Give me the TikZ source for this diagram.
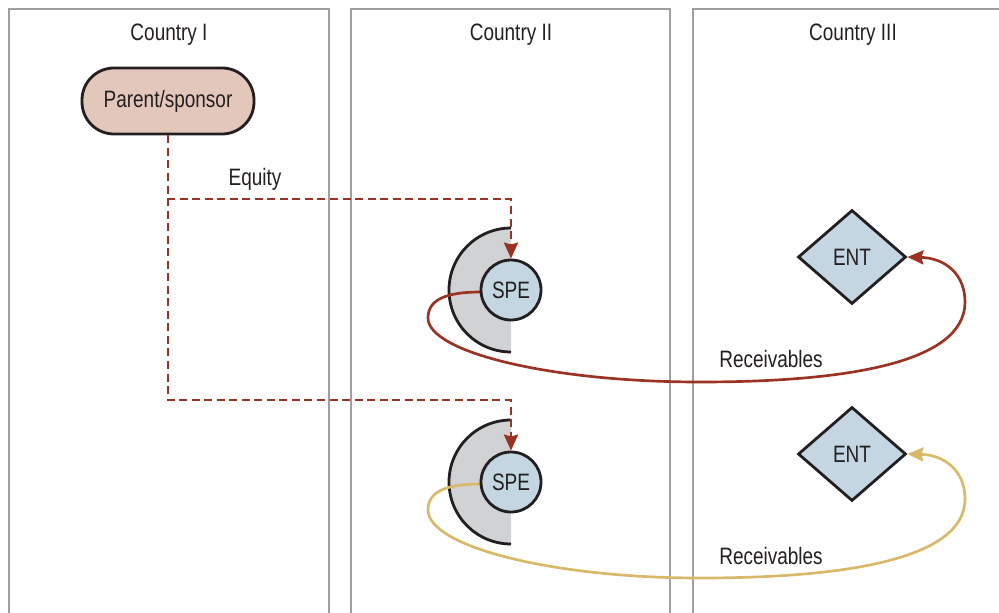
\documentclass[tikz,border=0pt]{standalone}
\usepackage{fontspec}
\setmainfont{Liberation Sans}[FakeStretch=0.8]
\usetikzlibrary{shapes.geometric,arrows.meta,calc}
\definecolor{inkc}{HTML}{231F20}
\definecolor{panelc}{HTML}{9D9FA2}
\definecolor{equityc}{HTML}{9A3324}
\definecolor{recvc}{HTML}{D8B96A}
\definecolor{parentfill}{HTML}{E4C7BB}
\definecolor{entityfill}{HTML}{C3D6E1}
\definecolor{discfill}{HTML}{D1D2D4}
\begin{document}
\begin{tikzpicture}[x=0.75pt,y=-0.75pt,
  every node/.style={font=\fontsize{17.8}{20}\selectfont, text=inkc},
  panel/.style={draw=panelc, line width=1.7pt},
  title/.style={anchor=center},
  parentbox/.style={draw=inkc, line width=2.1pt, fill=parentfill, rounded corners=24pt,
    minimum width=129pt, minimum height=49.5pt, inner sep=0pt},
  spebox/.style={circle, draw=inkc, line width=2.1pt, fill=entityfill, minimum size=45pt, inner sep=0pt},
  entbox/.style={diamond, draw=inkc, line width=2.1pt, fill=entityfill, minimum width=81pt, minimum height=70.5pt, inner sep=0pt},
  disc/.style={fill=discfill},
  discedge/.style={draw=inkc, line width=2.1pt},
  equity/.style={draw=equityc, line width=2.1pt, dash pattern=on 6pt off 3.4pt,
    -{Stealth[length=12pt,width=10.5pt,inset=1.5pt]}},
  flow/.style={line width=2pt, -{Stealth[length=12pt,width=10.5pt,inset=1.5pt]}},
]
\useasboundingbox (0,0) rectangle (999,613);

% country panels, open at the bottom
\draw[panel] (9,613) -- (9,9) -- (329,9) -- (329,613);
\draw[panel] (351,613) -- (351,9) -- (670,9) -- (670,613);
\draw[panel] (693,613) -- (693,9) -- (1015,9) -- (1015,613);
\node[title] (t1) at (169,35) {Country I};
\node[title] (t2) at (511,35) {Country II};
\node[title] (t3) at (853,35) {Country III};

% sponsor
\node[parentbox] (parent) at (168,101) {Parent/sponsor};

% half discs behind the SPEs
\fill[disc] (511,290) ++(0,46.5pt) arc[start angle=90,end angle=270,radius=46.5pt] -- cycle;
\draw[discedge] (511,290) ++(0,46.5pt) arc[start angle=90,end angle=270,radius=46.5pt];
\fill[disc] (511,482) ++(0,46.5pt) arc[start angle=90,end angle=270,radius=46.5pt] -- cycle;
\draw[discedge] (511,482) ++(0,46.5pt) arc[start angle=90,end angle=270,radius=46.5pt];

% entities
\node[entbox] (ent1) at (852,257) {ENT};
\node[entbox] (ent2) at (852,454) {ENT};
\coordinate (spe1c) at (511,290);
\coordinate (spe2c) at (511,482);

% receivables loops
\draw[flow, draw=equityc] ($(spe1c)+(-30,2)$) .. controls (445,292) and (428,300) .. (428,318)
  .. controls (428,352) and (550,382) .. (700,382)
  .. controls (850,382) and (965,362) .. (965,302)
  .. controls (965,274) and (945,258) .. (ent1.east);
\draw[flow, draw=recvc] ($(spe2c)+(-30,2)$) .. controls (445,484) and (428,492) .. (428,510)
  .. controls (428,546) and (550,578) .. (700,578)
  .. controls (850,578) and (965,558) .. (965,499)
  .. controls (965,471) and (945,455) .. (ent2.east);

% SPEs
\node[spebox] (spe1) at (spe1c) {SPE};
\node[spebox] (spe2) at (spe2c) {SPE};

% equity links
\coordinate (eq1) at (511,199);
\coordinate (eq2) at (511,400);
\draw[equity] (parent.south) |- (eq1) -- (spe1.north);
\draw[equity] (parent.south) |- (eq2) -- (spe2.north);

% labels
\node (lbeq) at (255,179) {Equity};
\node (lbr1) at (771,359) {Receivables};
\node (lbr2) at (771,556) {Receivables};
\end{tikzpicture}
\end{document}
